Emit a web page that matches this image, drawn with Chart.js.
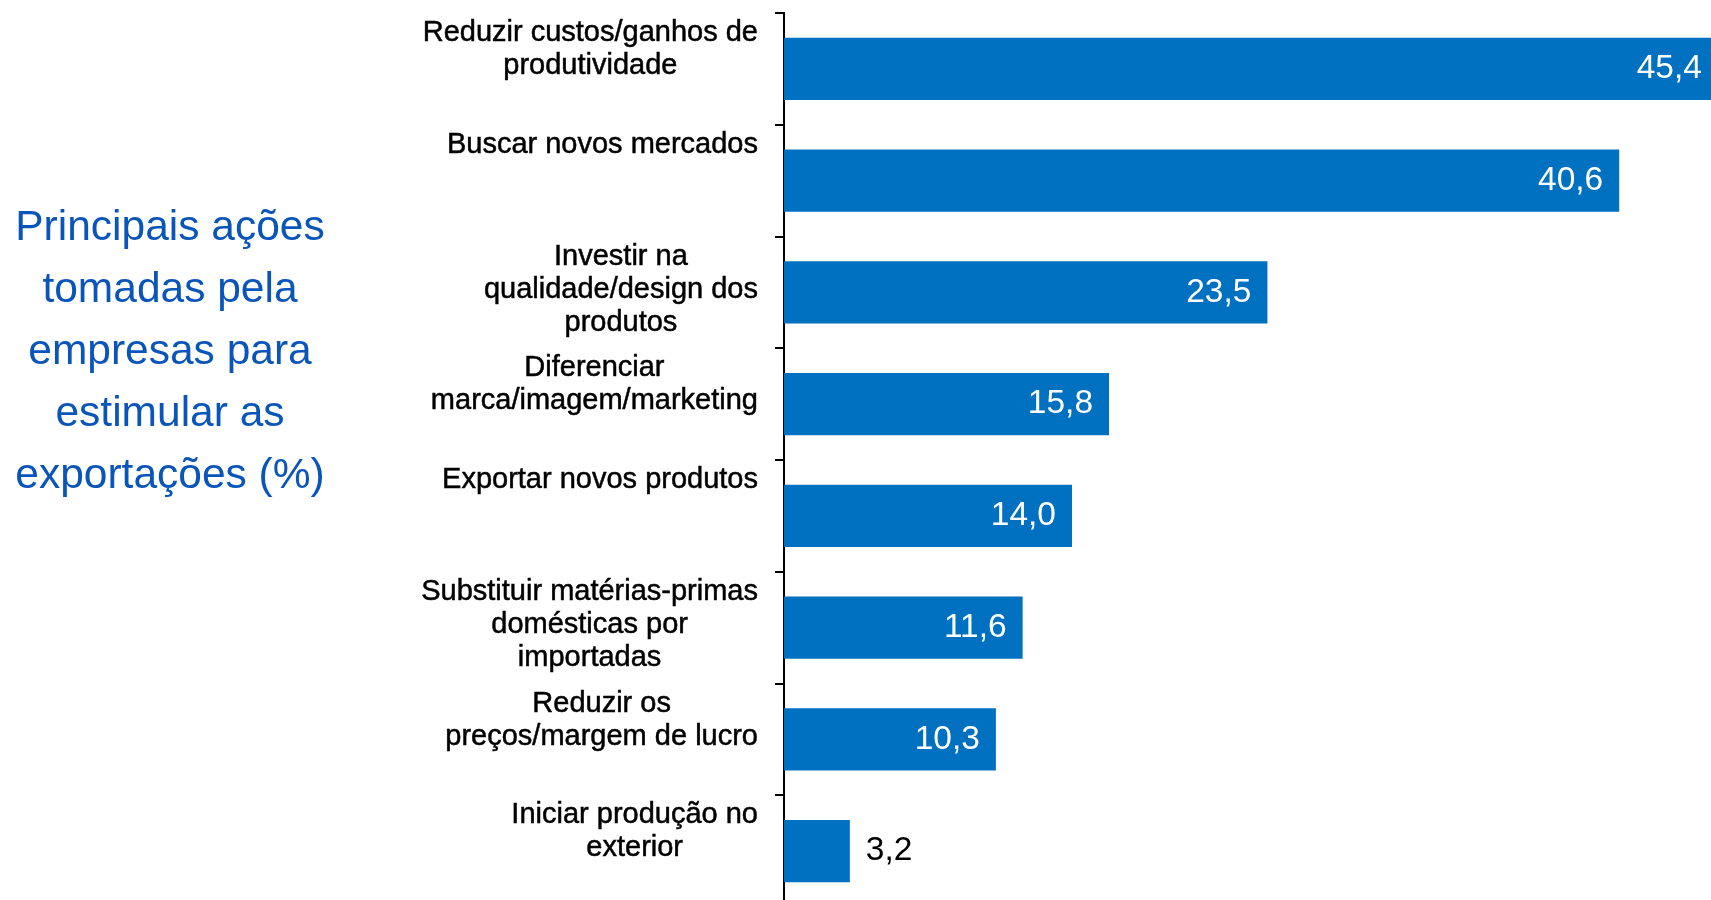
<!DOCTYPE html>
<html>
<head>
<meta charset="utf-8">
<script src="https://cdn.jsdelivr.net/npm/chart.js@4/dist/chart.umd.min.js"></script>
<style>
    html, body { margin: 0; padding: 0; background: #fff; overflow: hidden; }
    #wrap { width: 1720px; height: 910px; }
</style>
</head>
<body>
<div id="wrap"><canvas id="chart" width="1720" height="910"></canvas></div>
<script>
// Chart data
const categories = [
    ['Reduzir custos/ganhos de', 'produtividade'],
    ['Buscar novos mercados'],
    ['Investir na', 'qualidade/design dos', 'produtos'],
    ['Diferenciar', 'marca/imagem/marketing'],
    ['Exportar novos produtos'],
    ['Substituir matérias-primas', 'domésticas por', 'importadas'],
    ['Reduzir os', 'preços/margem de lucro'],
    ['Iniciar produção no', 'exterior']
];
const values = [45.4, 40.6, 23.5, 15.8, 14.0, 11.6, 10.3, 3.2];
const titleLines = [
    'Principais ações',
    'tomadas pela',
    'empresas para',
    'estimular as',
    'exportações (%)'
];

const FONT = '"Liberation Sans", Arial, sans-serif';

// Format numbers with a decimal comma
function formatValue(v) {
    return v.toFixed(1).replace('.', ',');
}

// Draws the left title, the category labels and the value labels
const labelPlugin = {
    id: 'labelPlugin',
    afterDraw(chart) {
        const ctx = chart.ctx;
        const yScale = chart.scales.y;
        const area = chart.chartArea;
        ctx.save();

        // Title on the left
        ctx.fillStyle = '#0A55BA';
        ctx.font = '42.5px ' + FONT;
        ctx.textAlign = 'center';
        ctx.textBaseline = 'alphabetic';
        titleLines.forEach((line, i) => {
            ctx.fillText(line, 170, 240 + i * 62);
        });

        // Category labels, placed at the top of each band
        const band = (yScale.getPixelForValue(1) - yScale.getPixelForValue(0));
        ctx.fillStyle = '#000';
        ctx.strokeStyle = '#000';
        ctx.lineWidth = 0.5;
        ctx.font = '29px ' + FONT;
        categories.forEach((lines, i) => {
            const top = yScale.getPixelForValue(i) - band / 2;
            const widest = Math.max(...lines.map(l => ctx.measureText(l).width));
            const cx = 758 - widest / 2;
            lines.forEach((line, j) => {
                ctx.fillText(line, cx, top + 28 + j * 33);
                ctx.strokeText(line, cx, top + 28 + j * 33);
            });
        });

        // Value labels
        ctx.font = '33.5px ' + FONT;
        ctx.textBaseline = 'middle';
        const meta = chart.getDatasetMeta(0);
        meta.data.forEach((bar, i) => {
            const v = values[i];
            const end = Math.min(bar.x, area.right);
            if (v >= 5) {
                ctx.fillStyle = '#fff';
                ctx.textAlign = 'right';
                ctx.fillText(formatValue(v), end - 16, bar.y);
            } else {
                ctx.fillStyle = '#000';
                ctx.textAlign = 'left';
                ctx.fillText(formatValue(v), end + 16, bar.y);
            }
        });
        ctx.restore();
    }
};

const ctx = document.getElementById('chart').getContext('2d');
window.exportChart = new Chart(ctx, {
    type: 'bar',
    data: {
        labels: categories,
        datasets: [{
            data: values,
            backgroundColor: '#0070C0',
            borderWidth: 0,
            categoryPercentage: 1,
            barPercentage: 0.555
        }]
    },
    options: {
        indexAxis: 'y',
        responsive: false,
        animation: false,
        layout: {
            padding: { top: 13, bottom: 3, left: 0, right: 0 }
        },
        scales: {
            x: {
                display: false,
                min: 0,
                max: 45.5
            },
            y: {
                offset: true,
                grid: {
                    offset: true,
                    drawOnChartArea: false,
                    drawTicks: true,
                    tickLength: 9,
                    color: '#000',
                    lineWidth: 2
                },
                border: {
                    display: true,
                    color: '#000',
                    width: 2
                },
                ticks: { display: false },
                afterFit(scale) {
                    scale.width = 784;
                }
            }
        },
        plugins: {
            legend: { display: false },
            tooltip: { enabled: false }
        }
    },
    plugins: [labelPlugin]
});
</script>
</body>
</html>
